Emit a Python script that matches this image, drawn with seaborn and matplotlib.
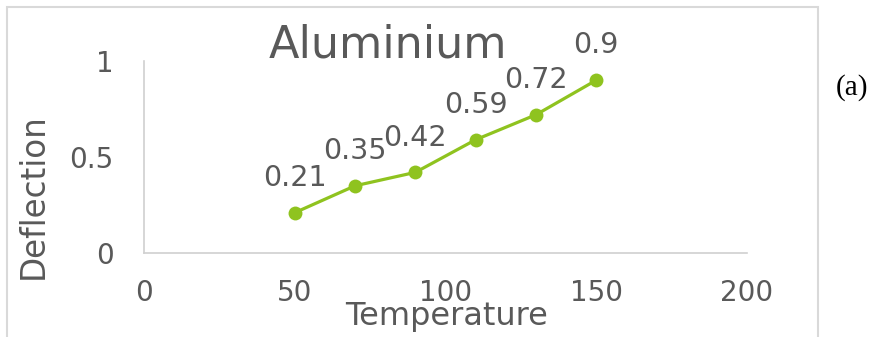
import matplotlib
matplotlib.use("Agg")
import matplotlib.pyplot as plt
import matplotlib.patches as patches
import seaborn as sns
import pandas as pd

temperature = [50, 70, 90, 110, 130, 150]
deflection = [0.21, 0.35, 0.42, 0.59, 0.72, 0.9]
x_ticks = [0, 50, 100, 150, 200]
y_ticks = [0, 0.5, 1]
y_tick_labels = ["0", "0.5", "1"]
title = "Aluminium"
x_label = "Temperature"
y_label = "Deflection"
panel = "(a)"

sns.set_style("white")
plt.rcParams["font.family"] = ["DejaVu Sans"]

W, H = 878, 337
fig = plt.figure(figsize=(W / 100, H / 100), dpi=100)
ax = fig.add_axes([144 / W, 1 - 253 / H, (747 - 144) / W, (253 - 61) / H])

df = pd.DataFrame({"Temperature": temperature, "Deflection": deflection})
green = "#8FC31F"
text_c = "#595959"
grid_c = "#D0D0D0"

sns.lineplot(data=df, x="Temperature", y="Deflection", ax=ax, color=green,
             linewidth=2.3, marker="o", markersize=10, markeredgewidth=0,
             markerfacecolor=green)

for x, y in zip(temperature, deflection):
    ax.annotate(f"{y:g}", (x, y), xytext=(0, 25), textcoords="offset points",
                ha="center", va="center", fontsize=20.5, color=text_c)

ax.set_xlim(0, 200)
ax.set_ylim(0, 1)
ax.set_xticks(x_ticks)
ax.set_xticklabels([str(t) for t in x_ticks])
ax.set_yticks(y_ticks)
ax.set_yticklabels(y_tick_labels)
ax.tick_params(axis="both", length=0, labelsize=20, labelcolor=text_c)
ax.tick_params(axis="x", pad=19)
ax.tick_params(axis="y", pad=22)
ax.set_xlabel("")
ax.set_ylabel("")
for s in ["top", "right"]:
    ax.spines[s].set_visible(False)
for s in ["left", "bottom"]:
    ax.spines[s].set_color(grid_c)
    ax.spines[s].set_linewidth(1.2)
ax.grid(False)

fig.text(388 / W, 1 - 45 / H, title, ha="center", va="center", fontsize=32, color=text_c)
fig.text(447 / W, 1 - 316 / H, x_label, ha="center", va="center", fontsize=23, color=text_c)
fig.text(33 / W, 1 - 196 / H, y_label, ha="center", va="center", rotation=90,
         fontsize=23.5, color=text_c)
fig.text(852 / W, 1 - 88 / H, panel, ha="center", va="center", fontsize=21,
         color="black", family=["Liberation Serif", "DejaVu Serif"])

border = patches.Rectangle((7 / W, -0.05), (818 - 7) / W, 1.05 - 7 / H,
                           transform=fig.transFigure, fill=False,
                           edgecolor="#D9D9D9", linewidth=1.5, clip_on=False)
fig.patches.append(border)

fig.savefig("out.png", dpi=100)
